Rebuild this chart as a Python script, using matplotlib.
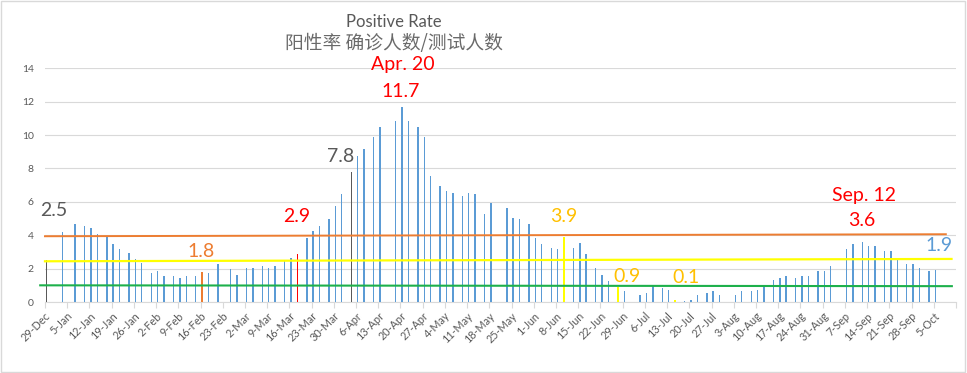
import numpy as np
import pandas as pd
import matplotlib
matplotlib.use('Agg')
import matplotlib.pyplot as plt
import matplotlib.dates as mdates
from matplotlib.patches import Rectangle

# positive rate (%) by report date
dates = ['2020-12-29', '2021-01-03', '2021-01-07', '2021-01-10', '2021-01-12', '2021-01-14',
         '2021-01-17', '2021-01-19', '2021-01-21', '2021-01-24', '2021-01-26', '2021-01-28',
         '2021-01-31', '2021-02-02', '2021-02-04', '2021-02-07', '2021-02-09', '2021-02-11',
         '2021-02-14', '2021-02-16', '2021-02-18', '2021-02-21', '2021-02-25', '2021-02-27',
         '2021-03-02', '2021-03-04', '2021-03-07', '2021-03-09', '2021-03-11', '2021-03-14',
         '2021-03-16', '2021-03-18', '2021-03-21', '2021-03-23', '2021-03-25', '2021-03-28',
         '2021-03-30', '2021-04-01', '2021-04-04', '2021-04-06', '2021-04-08', '2021-04-11',
         '2021-04-13', '2021-04-18', '2021-04-20', '2021-04-22', '2021-04-25', '2021-04-27',
         '2021-04-29', '2021-05-02', '2021-05-04', '2021-05-06', '2021-05-09', '2021-05-11',
         '2021-05-13', '2021-05-16', '2021-05-18', '2021-05-23', '2021-05-25', '2021-05-27',
         '2021-05-30', '2021-06-01', '2021-06-03', '2021-06-06', '2021-06-08', '2021-06-10',
         '2021-06-13', '2021-06-15', '2021-06-17', '2021-06-20', '2021-06-22', '2021-06-24',
         '2021-06-27', '2021-06-29', '2021-07-04', '2021-07-06', '2021-07-08', '2021-07-11',
         '2021-07-13', '2021-07-15', '2021-07-18', '2021-07-20', '2021-07-22', '2021-07-25',
         '2021-07-27', '2021-07-29', '2021-08-03', '2021-08-05', '2021-08-08', '2021-08-10',
         '2021-08-12', '2021-08-15', '2021-08-17', '2021-08-19', '2021-08-22', '2021-08-24',
         '2021-08-26', '2021-08-29', '2021-08-31', '2021-09-02', '2021-09-07', '2021-09-09',
         '2021-09-12', '2021-09-14', '2021-09-16', '2021-09-19', '2021-09-21', '2021-09-23',
         '2021-09-26', '2021-09-28', '2021-09-30', '2021-10-03', '2021-10-05']
rates = [2.5, 4.2, 4.7, 4.58, 4.46, 4.1,
         3.94, 3.5, 3.2, 2.96, 2.6, 2.36,
         1.76, 1.88, 1.58, 1.56, 1.46, 1.58,
         1.58, 1.8, 1.76, 2.3, 2.0, 1.64,
         2.04, 2.04, 2.16, 2.04, 2.16, 2.46,
         2.64, 2.9, 3.84, 4.26, 4.56, 4.98,
         5.76, 6.48, 7.8, 8.76, 9.18, 9.9,
         10.5, 10.86, 11.7, 10.86, 10.5, 9.9,
         7.56, 6.96, 6.66, 6.54, 6.36, 6.54,
         6.48, 5.28, 5.94, 5.64, 5.04, 4.98,
         4.68, 3.84, 3.48, 3.24, 3.18, 3.9,
         3.24, 3.54, 2.88, 2.04, 1.62, 1.26,
         0.9, 0.66, 0.42, 0.54, 1.02, 0.84,
         0.72, 0.1, 0.06, 0.12, 0.42, 0.54,
         0.66, 0.42, 0.42, 0.66, 0.66, 0.72,
         0.96, 1.32, 1.44, 1.56, 1.44, 1.56,
         1.56, 1.86, 1.86, 2.16, 3.18, 3.48,
         3.6, 3.36, 3.36, 3.06, 3.06, 2.64,
         2.28, 2.28, 2.04, 1.86, 1.9]

# bars drawn in another colour
highlight = {'2020-12-29': '#595959', '2021-02-16': '#ED7D31', '2021-03-18': '#FF0000',
             '2021-04-04': '#595959', '2021-06-10': '#FFFF00', '2021-06-27': '#FFFF00',
             '2021-07-15': '#FFFF00'}

# hand drawn reference lines: level at start and at end
orange_level = [3.94, 4.06]
yellow_level = [2.44, 2.58]
green_level = [1.0, 0.95]

# labels: text, date, value
labels = [('2.5', '2020-12-29', 2.5, '#595959'),
          ('1.8', '2021-02-16', 1.8, '#ED7D31'),
          ('2.9', '2021-03-18', 2.9, '#FF0000'),
          ('7.8', '2021-04-04', 7.8, '#595959'),
          ('11.7', '2021-04-20', 11.7, '#FF0000'),
          ('3.9', '2021-06-10', 3.9, '#FFC000'),
          ('0.9', '2021-06-27', 0.9, '#FFC000'),
          ('0.1', '2021-07-15', 0.1, '#FFC000'),
          ('3.6', '2021-09-12', 3.6, '#FF0000'),
          ('1.9', '2021-10-05', 1.9, '#5B9BD5')]
# label offset (days, value units) from the top of its bar
label_off = [(2.3, 3.0), (-0.3, 1.2), (-0.1, 2.25), (-3.2, 0.94), (-0.3, 0.9),
             (0.0, 1.2), (2.9, 0.6), (3.4, 1.34), (-0.1, 1.27), (1.2, 1.5)]

plt.rcParams['font.family'] = ['Lato', 'Noto Sans CJK SC', 'DejaVu Sans']

start = pd.Timestamp('2020-12-29')
end = pd.Timestamp('2021-10-12')
x = mdates.date2num(pd.to_datetime(dates)) + 0.5   # centre of the day slot
colors = [highlight.get(d, '#5B9BD5') for d in dates]

fig = plt.figure(figsize=(9.67, 3.73), dpi=100)
ax = fig.add_axes([0.0465, 0.1903, 0.9421, 0.6266])

ax.bar(x, rates, width=0.45, color=colors, linewidth=0, zorder=3)

x0 = mdates.date2num(start)
ax.plot([x0, x0 + 283.8], orange_level, color='#ED7D31', lw=1.4, zorder=4, clip_on=False)
ax.plot([x0, x0 + 285.6], yellow_level, color='#FFFF00', lw=1.6, zorder=4, clip_on=False)
ax.plot([x0 - 1.5, x0 + 285.7], green_level, color='#1DB04B', lw=1.5, zorder=4, clip_on=False)

for (txt, d, v, c), (dx, dy) in zip(labels, label_off):
    ax.text(mdates.date2num(pd.Timestamp(d)) + 0.5 + dx, v + dy, txt, color=c,
            fontsize=14, ha='center', va='center', zorder=5)
ax.text(x0 + 112.6, 14.2, 'Apr. 20', color='#FF0000', fontsize=14, ha='center', va='center',
        clip_on=False)
ax.text(x0 + 258.0, 6.36, 'Sep. 12', color='#FF0000', fontsize=14, ha='center', va='center')

# axes
ax.set_xlim(mdates.date2num(start), mdates.date2num(end))
ax.set_ylim(0, 14)
ax.set_yticks(np.arange(0, 15, 2))
ticks = pd.date_range(start, end, freq='7D')
ax.set_xticks(mdates.date2num(ticks))
ax.set_xticklabels([f'{t.day}-{t.strftime("%b")}' for t in ticks[:-1]] + [''],
                   rotation=45, ha='right', rotation_mode='anchor')
ax.tick_params(axis='x', length=4, color='#D9D9D9', labelsize=7.8, labelcolor='#595959', pad=2)
ax.tick_params(axis='y', length=0, labelsize=7.5, labelcolor='#595959', pad=8)
ax.grid(axis='y', color='#D9D9D9', lw=0.8, zorder=0)
for s in ['top', 'right', 'left']:
    ax.spines[s].set_visible(False)
ax.spines['bottom'].set_color('#D9D9D9')

fig.text(0.4074, 0.941, 'Positive Rate', color='#595959', fontsize=12, ha='center', va='center')
fig.text(0.4074, 0.8847, '阳性率 确诊人数/测试人数', color='#6A6A6A', fontsize=13.5,
         ha='center', va='center', family=['Noto Sans CJK SC', 'DejaVu Sans'])

fig.patches.append(Rectangle((0.001, 0.003), 0.997, 0.994, transform=fig.transFigure,
                             fill=False, edgecolor='#D9D9D9', lw=1))

fig.savefig('out.png', dpi=100)
